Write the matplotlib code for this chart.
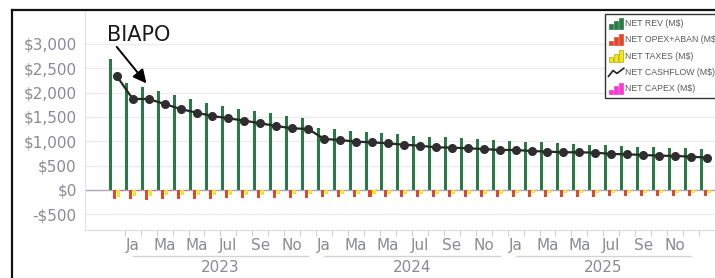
import numpy as np
import matplotlib
matplotlib.use("Agg")
import matplotlib.pyplot as plt
from matplotlib.patches import Patch, Rectangle
from matplotlib.lines import Line2D
from matplotlib.legend_handler import HandlerBase
from matplotlib.ticker import FuncFormatter
import matplotlib.transforms as mtransforms

# monthly values, Dec 2022 .. Jan 2026 (M$)
net_rev = [2685, 2192, 2120, 2041, 1952, 1870, 1795, 1726, 1664, 1615, 1575, 1520, 1486,
           1267, 1247, 1212, 1185, 1171, 1151, 1110, 1096, 1082, 1062, 1041, 1027,
           1007, 993, 979, 959, 945, 931, 925, 910, 890, 877, 870, 856, 836]
net_opex = [-190, -175, -215, -175, -175, -185, -175, -165, -170, -165, -160, -160, -160,
            -150, -150, -148, -147, -146, -145, -144, -143, -142, -141, -140, -140,
            -137, -136, -136, -135, -135, -134, -133, -133, -132, -131, -131, -130, -130]
net_taxes = [-140, -120, -130, -110, -110, -105, -100, -95, -95, -95, -90, -90, -90,
             -80, -80, -79, -78, -78, -77, -77, -76, -76, -75, -75, -75,
             -70, -70, -70, -69, -69, -68, -68, -67, -67, -66, -66, -65, -65]
net_capex = [-14, -12, -12, -11, -11, -10, -10, -10, -10, -10, -9, -9, -9,
             -9, -9, -8, -8, -8, -8, -8, -8, -8, -7, -7, -7,
             -7, -7, -7, -7, -6, -6, -6, -6, -6, -6, -6, -6, -6]
net_cashflow = [2342, 1870, 1870, 1767, 1664, 1589, 1520, 1473, 1424, 1370, 1315, 1267, 1253,
                1048, 1027, 993, 979, 959, 930, 910, 877, 870, 856, 842, 822,
                822, 801, 788, 775, 774, 767, 740, 733, 719, 705, 699, 685, 664]

month_labels = ["Ja", "Ma", "Ma", "Jul", "Se", "No"]
years = ["2023", "2024", "2025"]
series_names = ["NET REV (M$)", "NET OPEX+ABAN (M$)", "NET TAXES (M$)",
                "NET CASHFLOW (M$)", "NET CAPEX (M$)"]

GREEN = "#2a7a48"
RED = "#e0482c"
YELLOW = "#f3e61a"
MAGENTA = "#f53bd0"
GREY = "#8a8b94"

fig = plt.figure(figsize=(7.15, 2.78), dpi=100)
ax = fig.add_axes([85 / 715, 48 / 278, 630 / 715, 220 / 278])

x = np.arange(len(net_rev))
slot = 0.25
bw = 0.19
ax.bar(x - 1.5 * slot, net_rev, bw, color=GREEN, zorder=2)
ax.bar(x - 0.5 * slot, net_opex, bw, color=RED, zorder=2)
ax.bar(x + 0.5 * slot, net_taxes, bw, color=YELLOW, zorder=2)
ax.bar(x + 1.5 * slot, net_capex, bw, color=MAGENTA, zorder=2)
ax.plot(x, net_cashflow, color="#262626", lw=1.6, marker="o", ms=5.5,
        mfc="#2e2e2e", mec="#2e2e2e", zorder=4)

ax.axhline(0, color="#b0aab8", lw=1, zorder=1)
ax.set_xlim(-1.99, 37.14)
ax.set_ylim(-822, 3698)
ax.set_yticks(np.arange(-500, 3001, 500))
ax.yaxis.set_major_formatter(FuncFormatter(
    lambda v, p: ("-$" if v < 0 else "$") + f"{abs(v):,.0f}"))
ax.grid(axis="y", color="#ececec", lw=1, zorder=0)
ax.set_axisbelow(True)

for s in ["top", "right"]:
    ax.spines[s].set_visible(False)
ax.spines["left"].set_color("#e2e2e2")
ax.spines["bottom"].set_color("#dcdcdc")

# month labels every other month, Jan 2023 .. Nov 2025
major = np.arange(1, 12 * len(years), 2)
ax.set_xticks(major)
ax.set_xticklabels([month_labels[i % 6] for i in range(len(major))])
ax.set_xticks(np.arange(0.5, len(x), 1), minor=True)
ax.tick_params(axis="x", which="major", length=0, pad=6, labelsize=11, labelcolor=GREY)
ax.tick_params(axis="x", which="minor", length=4.5, color="#cfcfcf", width=0.8)
ax.tick_params(axis="y", length=0, pad=6, labelsize=11, labelcolor=GREY)

# year group lines and labels
trans = mtransforms.blended_transform_factory(ax.transData, ax.transAxes)
for i, yr in enumerate(years):
    start, end = 1 + 12 * i, 12 + 12 * i
    ax.plot([start, end], [-0.118, -0.118], color="#d2d2d2", lw=1,
            transform=trans, clip_on=False)
    ax.text((start + end) / 2, -0.17, yr, transform=trans, ha="center",
            va="center", fontsize=11, color=GREY)

# annotation
ax.text(1.37, 3190, "BIAPO", fontsize=15, color="#1a1a1a", ha="center", va="center")
ax.annotate("", xy=(1.86, 2190), xytext=(0.0, 2940),
            arrowprops=dict(arrowstyle="-|>", color="black", lw=1.4,
                            mutation_scale=20, shrinkA=0, shrinkB=0))


class BarIcon(HandlerBase):
    def create_artists(self, legend, orig_handle, xdescent, ydescent,
                       width, height, fontsize, trans):
        fc = orig_handle.get_facecolor()
        ec = orig_handle.get_edgecolor()
        arts = []
        w = width / 3
        for i, h in enumerate([0.4, 0.7, 1.0]):
            r = Rectangle((-xdescent + i * w, -ydescent), w * 0.9, height * h,
                          facecolor=fc, edgecolor=ec, lw=0.5, transform=trans)
            arts.append(r)
        return arts


class ZigIcon(HandlerBase):
    def create_artists(self, legend, orig_handle, xdescent, ydescent,
                       width, height, fontsize, trans):
        xs = np.array([0, 0.3, 0.55, 1.0]) * width - xdescent
        ys = np.array([0.15, 0.65, 0.4, 0.85]) * height - ydescent
        return [Line2D(xs, ys, color="#222222", lw=1.2, transform=trans)]


handles = [Patch(facecolor=GREEN, edgecolor=GREEN),
           Patch(facecolor=RED, edgecolor=RED),
           Patch(facecolor=YELLOW, edgecolor="#b5a800"),
           Line2D([], [], color="#222222"),
           Patch(facecolor=MAGENTA, edgecolor=MAGENTA)]
hmap = {h: (ZigIcon() if isinstance(h, Line2D) else BarIcon()) for h in handles}
leg = fig.legend(handles, series_names, handler_map=hmap, loc="upper left",
                 bbox_to_anchor=(605 / 715, 1 - 14 / 278), bbox_transform=fig.transFigure,
                 borderaxespad=0, frameon=True, fancybox=False, edgecolor="black",
                 prop={"family": ["Liberation Sans Narrow", "Liberation Sans"], "size": 6.3},
                 handlelength=1.75, handleheight=1.65, handletextpad=0.15,
                 labelspacing=0.55, borderpad=0.4)
leg.get_frame().set_linewidth(1.0)
for t in leg.get_texts():
    t.set_color("#5a5a5a")

# outer frame of the slide
fig.add_artist(Line2D([12 / 715, 12 / 715], [0, 1 - 10 / 278], color="#111111",
                      lw=1.6, transform=fig.transFigure))
fig.add_artist(Line2D([12 / 715, 1], [1 - 10 / 278, 1 - 10 / 278], color="#111111",
                      lw=1.6, transform=fig.transFigure))

fig.savefig("out.png", dpi=100)
